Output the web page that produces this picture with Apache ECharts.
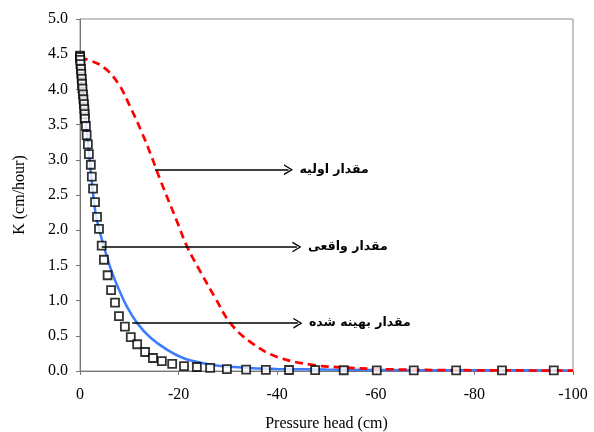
<!DOCTYPE html>
<html>
<head>
<meta charset="utf-8">
<script src="https://cdn.jsdelivr.net/npm/echarts@6/dist/echarts.min.js"></script>
<style>html,body{margin:0;padding:0;background:#fff}#c{width:594px;height:432px}</style>
</head>
<body>
<div id="c"></div>
<script>
// Measured (observed) values: pressure head (cm) and K (cm/hour)
const measuredHead = [0, -0.02, -0.05, -0.1, -0.2, -0.26, -0.35, -0.4, -0.5, -0.6, -0.7, -0.8, -0.88, -0.95, -1.0, -1.2, -1.35, -1.6, -1.8, -2.2, -2.4, -2.65, -3.05, -3.45, -3.85, -4.4, -4.85, -5.6, -6.3, -7.1, -7.9, -9.1, -10.3, -11.6, -13.2, -14.8, -16.6, -18.7, -21.1, -23.7, -26.4, -29.8, -33.7, -37.7, -42.4, -47.7, -53.5, -60.2, -67.7, -76.3, -85.6, -96.1];
const measuredK = [4.48, 4.46, 4.42, 4.36, 4.29, 4.22, 4.15, 4.08, 4.01, 3.93, 3.86, 3.79, 3.72, 3.65, 3.58, 3.48, 3.35, 3.22, 3.08, 2.93, 2.76, 2.59, 2.40, 2.19, 2.02, 1.78, 1.58, 1.36, 1.15, 0.97, 0.78, 0.63, 0.48, 0.38, 0.27, 0.185, 0.14, 0.10, 0.07, 0.057, 0.043, 0.028, 0.02, 0.016, 0.014, 0.012, 0.011, 0.01, 0.009, 0.008, 0.008, 0.008];

// Optimized curve
const optimizedHead = [0, -0.5, -1.0, -1.6, -3.05, -4.07, -6.1, -7.7, -9.55, -11.6, -14.2, -17.7, -20.9, -25, -28.5, -35, -40, -50, -60, -80, -100];
const optimizedK = [4.46, 4.0, 3.65, 3.24, 2.29, 1.96, 1.48, 1.19, 0.91, 0.68, 0.48, 0.30, 0.185, 0.11, 0.07, 0.04, 0.03, 0.02, 0.015, 0.01, 0.008];

// Initial curve
const initialHead = [0, -1.6, -4.7, -7.7, -10.2, -12.6, -14.6, -16.3, -19.7, -21.7, -24.5, -27.5, -30.5, -34.6, -40, -47.4, -53.5, -59.6, -70, -100];
const initialK = [4.46, 4.42, 4.32, 4.09, 3.75, 3.38, 3.03, 2.71, 2.12, 1.77, 1.40, 1.03, 0.68, 0.41, 0.20, 0.085, 0.05, 0.03, 0.015, 0.005];

const xTicks = [0, -20, -40, -60, -80, -100];
const labelInitial = 'مقدار اولیه';
const labelMeasured = 'مقدار واقعی';
const labelOptimized = 'مقدار بهینه شده';

// annotation arrows: [startHead, endHead, K]
const arrowInitial = [-15.2, -42.3, 2.86];
const arrowMeasured = [-4.4, -44.0, 1.76];
const arrowOptimized = [-10.6, -44.2, 0.68];

const zip = (a, b) => a.map((v, i) => [v, b[i]]);
const chevron = 'path://M0,10 L5,0 L10,10 L8.6,10 L5,2.6 L1.4,10 Z';

function arrow(a, text) {
  return [
    { coord: [a[0], a[2]], symbol: 'none' },
    { coord: [a[1], a[2]], symbol: chevron, symbolSize: [11, 9],
      label: { show: true, position: 'end', formatter: text, distance: 11,
               fontFamily: 'DejaVu Sans', fontWeight: 'bold', fontSize: 12.5, color: '#000' } }
  ];
}

const chart = echarts.init(document.getElementById('c'));
chart.setOption({
  animation: false,
  backgroundColor: '#fff',
  grid: { left: 80, right: 21, top: 19, bottom: 61, show: true, borderColor: '#8c8c8c', borderWidth: 1,
          containLabel: false, outerBoundsMode: 'none' },
  xAxis: {
    type: 'value', min: -100, max: 0, interval: 20, inverse: true,
    name: 'Pressure head (cm)', nameLocation: 'middle', nameGap: 45,
    nameTextStyle: { fontFamily: 'Liberation Serif', fontSize: 16, color: '#000' },
    axisLine: { show: true, onZero: false, lineStyle: { color: '#777', width: 1 } },
    axisTick: { show: true, inside: false, length: 4, lineStyle: { color: '#777' } },
    axisLabel: { fontFamily: 'Liberation Serif', fontSize: 16, color: '#000', margin: 16 },
    splitLine: { show: false }
  },
  yAxis: {
    type: 'value', min: 0, max: 5, interval: 0.5,
    name: 'K (cm/hour)', nameLocation: 'middle', nameGap: 52, nameRotate: 90,
    nameTextStyle: { fontFamily: 'Liberation Serif', fontSize: 16, color: '#000' },
    axisLine: { show: true, lineStyle: { color: '#777', width: 1 } },
    axisTick: { show: true, inside: false, length: 4, lineStyle: { color: '#777' } },
    axisLabel: { fontFamily: 'Liberation Serif', fontSize: 16, color: '#000', margin: 12,
                 formatter: v => v.toFixed(1) },
    splitLine: { show: false }
  },
  series: [
    {
      name: 'optimized', type: 'line', data: zip(optimizedHead, optimizedK),
      smooth: 0.3, showSymbol: false, symbol: 'none',
      lineStyle: { color: '#3d7cff', width: 2.5 }, z: 2,
      markLine: {
        silent: true, symbol: ['none', chevron], symbolSize: [11, 9],
        lineStyle: { color: '#000', width: 1.5, type: 'solid' },
        data: [arrow(arrowOptimized, labelOptimized)]
      }
    },
    {
      name: 'initial', type: 'line', data: zip(initialHead, initialK),
      smooth: 0.4, showSymbol: false, symbol: 'none',
      lineStyle: { color: '#ff0000', width: 2.7, type: [8, 5] }, z: 3,
      markLine: {
        silent: true, symbol: ['none', chevron], symbolSize: [11, 9],
        lineStyle: { color: '#000', width: 1.5, type: 'solid' },
        data: [arrow(arrowInitial, labelInitial), arrow(arrowMeasured, labelMeasured)]
      }
    },
    {
      name: 'measured', type: 'scatter', data: zip(measuredHead, measuredK),
      symbol: 'rect', symbolSize: 8,
      itemStyle: { color: '#fff', borderColor: '#000', borderWidth: 1.8 }, z: 4
    }
  ]
});
</script>
</body>
</html>
